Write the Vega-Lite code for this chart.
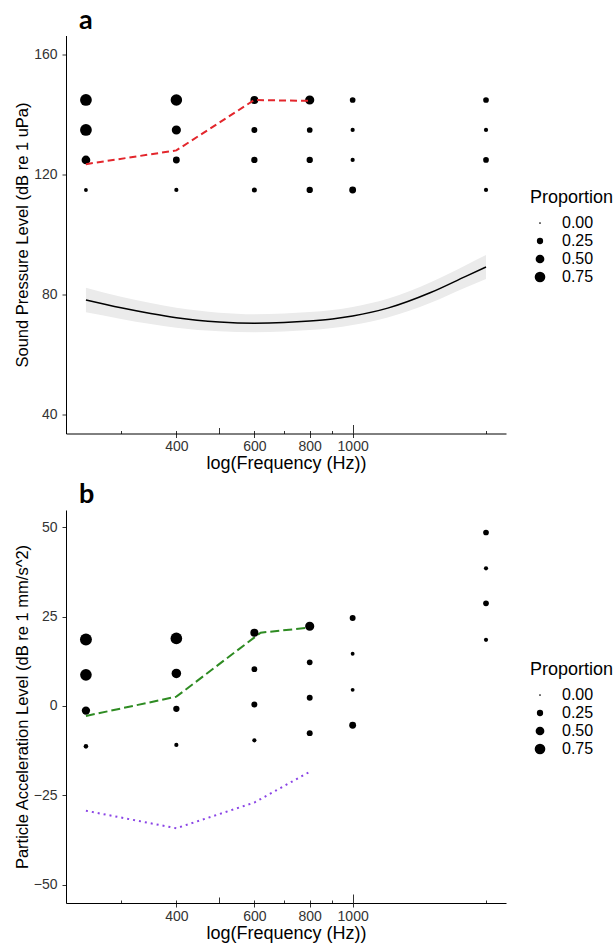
{
  "$schema": "https://vega.github.io/schema/vega-lite/v6.json",
  "background": "white",
  "padding": {"left": 14, "top": 6.5, "right": 0, "bottom": 0},
  "config": {
    "view": {"stroke": null},
    "font": "Liberation Sans",
    "axis": {
      "grid": false,
      "domainColor": "#000000",
      "domainWidth": 1,
      "tickColor": "#333333",
      "tickSize": 4,
      "labelColor": "#333333",
      "labelFontSize": 14,
      "labelPadding": 5,
      "titleColor": "#000000",
      "titleFontSize": 16.5,
      "titleFontWeight": "normal",
      "titlePadding": 3
    },
    "axisBottom": {"titleFontSize": 18, "titlePadding": 1, "labelPadding": 2},
    "legend": {
      "titleFontSize": 18,
      "titleFontWeight": "normal",
      "titleColor": "#000000",
      "labelFontSize": 16,
      "labelColor": "#000000",
      "titlePadding": 8,
      "rowPadding": 2,
      "labelOffset": 14,
      "symbolOffset": 2,
      "symbolFillColor": "#000000",
      "symbolStrokeWidth": 0
    },
    "title": {
      "font": "Lato",
      "fontSize": 27,
      "fontWeight": "bold",
      "anchor": "start",
      "frame": "group",
      "color": "#000000"
    }
  },
  "datasets": {
    "ptsA": [
      {"f": 250, "spl": 145, "p": 0.92}, {"f": 250, "spl": 135, "p": 0.92}, {"f": 250, "spl": 125, "p": 0.5}, {"f": 250, "spl": 115, "p": 0.08},
      {"f": 400, "spl": 145, "p": 0.88}, {"f": 400, "spl": 135, "p": 0.55}, {"f": 400, "spl": 125, "p": 0.3}, {"f": 400, "spl": 115, "p": 0.1},
      {"f": 600, "spl": 145, "p": 0.4}, {"f": 600, "spl": 135, "p": 0.22}, {"f": 600, "spl": 125, "p": 0.25}, {"f": 600, "spl": 115, "p": 0.15},
      {"f": 800, "spl": 145, "p": 0.55}, {"f": 800, "spl": 135, "p": 0.2}, {"f": 800, "spl": 125, "p": 0.25}, {"f": 800, "spl": 115, "p": 0.25},
      {"f": 1000, "spl": 145, "p": 0.2}, {"f": 1000, "spl": 135, "p": 0.1}, {"f": 1000, "spl": 125, "p": 0.1}, {"f": 1000, "spl": 115, "p": 0.3},
      {"f": 2000, "spl": 145, "p": 0.2}, {"f": 2000, "spl": 135, "p": 0.1}, {"f": 2000, "spl": 125, "p": 0.2}, {"f": 2000, "spl": 115, "p": 0.1}
    ],
    "curveA": [
      {"f": 250, "fit": 78.3, "lo": 74.2, "hi": 82.4},
      {"f": 300, "fit": 75.7, "lo": 72.0, "hi": 79.4},
      {"f": 350, "fit": 73.8, "lo": 70.3, "hi": 77.3},
      {"f": 400, "fit": 72.4, "lo": 69.1, "hi": 75.7},
      {"f": 500, "fit": 71.0, "lo": 67.9, "hi": 74.1},
      {"f": 600, "fit": 70.6, "lo": 67.6, "hi": 73.6},
      {"f": 700, "fit": 70.8, "lo": 67.8, "hi": 73.8},
      {"f": 800, "fit": 71.3, "lo": 68.3, "hi": 74.3},
      {"f": 900, "fit": 72.0, "lo": 69.0, "hi": 75.0},
      {"f": 1000, "fit": 73.0, "lo": 70.0, "hi": 76.0},
      {"f": 1200, "fit": 75.6, "lo": 72.5, "hi": 78.7},
      {"f": 1500, "fit": 80.8, "lo": 77.4, "hi": 84.2},
      {"f": 1800, "fit": 86.2, "lo": 82.5, "hi": 89.9},
      {"f": 2000, "fit": 89.3, "lo": 85.3, "hi": 93.3}
    ],
    "threshA": [
      {"f": 250, "spl": 123.6},
      {"f": 400, "spl": 128.2},
      {"f": 600, "spl": 145.0},
      {"f": 800, "spl": 144.7}
    ],
    "ptsB": [
      {"f": 250, "pal": 18.6, "p": 0.95}, {"f": 250, "pal": 8.7, "p": 0.9}, {"f": 250, "pal": -1.3, "p": 0.45}, {"f": 250, "pal": -11.3, "p": 0.12},
      {"f": 400, "pal": 18.9, "p": 0.9}, {"f": 400, "pal": 9.1, "p": 0.6}, {"f": 400, "pal": -0.8, "p": 0.25}, {"f": 400, "pal": -10.9, "p": 0.1},
      {"f": 600, "pal": 20.5, "p": 0.42}, {"f": 600, "pal": 10.3, "p": 0.2}, {"f": 600, "pal": 0.4, "p": 0.22}, {"f": 600, "pal": -9.6, "p": 0.1},
      {"f": 800, "pal": 22.3, "p": 0.55}, {"f": 800, "pal": 12.2, "p": 0.2}, {"f": 800, "pal": 2.3, "p": 0.22}, {"f": 800, "pal": -7.6, "p": 0.22},
      {"f": 1000, "pal": 24.6, "p": 0.22}, {"f": 1000, "pal": 14.6, "p": 0.08}, {"f": 1000, "pal": 4.5, "p": 0.08}, {"f": 1000, "pal": -5.4, "p": 0.3},
      {"f": 2000, "pal": 48.5, "p": 0.2}, {"f": 2000, "pal": 38.5, "p": 0.1}, {"f": 2000, "pal": 28.7, "p": 0.2}, {"f": 2000, "pal": 18.5, "p": 0.1}
    ],
    "greenB": [
      {"f": 250, "pal": -2.8},
      {"f": 400, "pal": 2.6},
      {"f": 620, "pal": 20.5},
      {"f": 800, "pal": 21.9}
    ],
    "purpleB": [
      {"f": 250, "pal": -29.3},
      {"f": 400, "pal": -34.2},
      {"f": 600, "pal": -27.0},
      {"f": 800, "pal": -18.4}
    ]
  },
  "vconcat": [
    {
      "width": 440,
      "height": 398,
      "title": {"text": "a", "dx": 13, "offset": 1},
      "layer": [
        {
          "data": {"name": "curveA"},
          "mark": {"type": "area", "color": "#EBEBEB", "opacity": 1, "interpolate": "monotone"},
          "encoding": {
            "x": {"field": "f", "type": "quantitative", "scale": {"type": "log", "domain": [225.4, 2219], "nice": false},
                  "axis": {"orient": "bottom", "values": [300, 400, 600, 700, 800, 900, 2000], "labels": false, "domain": false, "title": null, "tickSize": -3, "tickColor": "#333333"}},
            "y": {"field": "lo", "type": "quantitative", "scale": {"domain": [33.8, 166.5], "nice": false, "zero": false},
                  "axis": {"orient": "left", "values": [40, 80, 120, 160], "title": "Sound Pressure Level (dB re 1 uPa)"}},
            "y2": {"field": "hi"}
          }
        },
        {
          "data": {"name": "curveA"},
          "mark": {"type": "line", "color": "#000000", "strokeWidth": 1.5, "interpolate": "monotone"},
          "encoding": {
            "x": {"field": "f", "type": "quantitative", "axis": {"orient": "bottom", "values": [500], "labels": false, "domain": false, "title": null, "tickSize": -6, "tickColor": "#333333"}},
            "y": {"field": "fit", "type": "quantitative", "axis": {"orient": "left", "values": [40, 80, 120, 160], "title": "Sound Pressure Level (dB re 1 uPa)"}}
          }
        },
        {
          "data": {"name": "ptsA"},
          "mark": {"type": "circle", "color": "#000000", "opacity": 1},
          "encoding": {
            "x": {"field": "f", "type": "quantitative", "axis": {"orient": "bottom", "values": [400, 600, 800, 1000], "format": "d", "title": "log(Frequency (Hz))"}},
            "y": {"field": "spl", "type": "quantitative", "axis": {"orient": "left", "values": [40, 80, 120, 160], "title": "Sound Pressure Level (dB re 1 uPa)"}},
            "size": {"field": "p", "type": "quantitative", "scale": {"domain": [0, 1], "range": [3, 150]},
                     "legend": {"title": "Proportion", "values": [0, 0.25, 0.5, 0.75], "format": ".2f", "orient": "none", "legendX": 464, "legendY": 153.5}}
          }
        },
        {
          "data": {"name": "threshA"},
          "mark": {"type": "line", "color": "#E3262C", "strokeWidth": 2, "strokeDash": [7, 4]},
          "encoding": {
            "x": {"field": "f", "type": "quantitative", "axis": {"orient": "bottom", "values": [1000], "labels": false, "domain": false, "title": null, "tickSize": -9, "tickColor": "#333333"}},
            "y": {"field": "spl", "type": "quantitative", "axis": {"orient": "left", "values": [40, 80, 120, 160], "title": "Sound Pressure Level (dB re 1 uPa)"}}
          }
        }
      ],
      "resolve": {"axis": {"x": "independent"}}
    },
    {
      "width": 440,
      "height": 393,
      "title": {"text": "b", "dx": 13, "offset": 1},
      "layer": [
        {
          "data": {"name": "purpleB"},
          "mark": {"type": "line", "color": "#8A44E6", "strokeWidth": 2, "strokeDash": [2, 4]},
          "encoding": {
            "x": {"field": "f", "type": "quantitative", "scale": {"type": "log", "domain": [225.4, 2219], "nice": false},
                  "axis": {"orient": "bottom", "values": [300, 400, 600, 700, 800, 900, 2000], "labels": false, "domain": false, "title": null, "tickSize": -3, "tickColor": "#333333"}},
            "y": {"field": "pal", "type": "quantitative", "scale": {"domain": [-55.1, 54.8], "nice": false, "zero": false},
                  "axis": {"orient": "left", "values": [-50, -25, 0, 25, 50], "title": "Particle Acceleration Level (dB re 1 mm/s^2)"}}
          }
        },
        {
          "data": {"name": "greenB"},
          "mark": {"type": "line", "color": "#2E8B22", "strokeWidth": 2, "strokeDash": [9, 4]},
          "encoding": {
            "x": {"field": "f", "type": "quantitative", "axis": {"orient": "bottom", "values": [500], "labels": false, "domain": false, "title": null, "tickSize": -6, "tickColor": "#333333"}},
            "y": {"field": "pal", "type": "quantitative", "axis": {"orient": "left", "values": [-50, -25, 0, 25, 50], "title": "Particle Acceleration Level (dB re 1 mm/s^2)"}}
          }
        },
        {
          "data": {"name": "ptsB"},
          "mark": {"type": "circle", "color": "#000000", "opacity": 1},
          "encoding": {
            "x": {"field": "f", "type": "quantitative", "axis": {"orient": "bottom", "values": [400, 600, 800, 1000], "format": "d", "title": "log(Frequency (Hz))"}},
            "y": {"field": "pal", "type": "quantitative", "axis": {"orient": "left", "values": [-50, -25, 0, 25, 50], "title": "Particle Acceleration Level (dB re 1 mm/s^2)"}},
            "size": {"field": "p", "type": "quantitative", "scale": {"domain": [0, 1], "range": [3, 150]},
                     "legend": {"title": "Proportion", "values": [0, 0.25, 0.5, 0.75], "format": ".2f", "orient": "none", "legendX": 464, "legendY": 151}}
          }
        },
        {
          "data": {"name": "greenB"},
          "mark": {"type": "line", "opacity": 0},
          "encoding": {
            "x": {"field": "f", "type": "quantitative", "axis": {"orient": "bottom", "values": [1000], "labels": false, "domain": false, "title": null, "tickSize": -9, "tickColor": "#333333"}},
            "y": {"field": "pal", "type": "quantitative", "axis": {"orient": "left", "values": [-50, -25, 0, 25, 50], "title": "Particle Acceleration Level (dB re 1 mm/s^2)"}}
          }
        }
      ],
      "resolve": {"axis": {"x": "independent"}}
    }
  ],
  "spacing": 8.5,
  "resolve": {"scale": {"size": "independent"}, "legend": {"size": "independent"}}
}
